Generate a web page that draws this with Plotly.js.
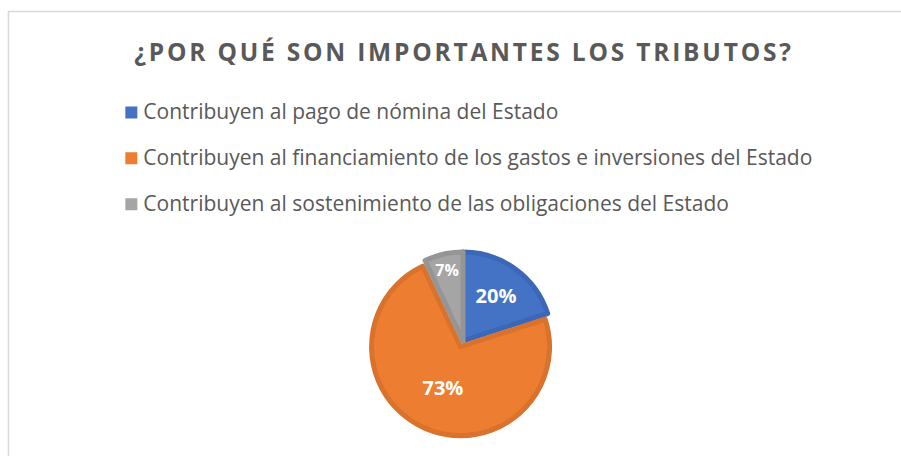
<!DOCTYPE html>
<html>
<head>
<meta charset="utf-8">
<script src="https://cdn.plot.ly/plotly-3.0.1.min.js"></script>
<style>html,body{margin:0;padding:0;background:#fff;}</style>
</head>
<body>
<div id="chart" style="width:901px;height:456px;"></div>
<script>
const chartTitle = "¿POR QUÉ SON IMPORTANTES LOS TRIBUTOS?";
const categories = [
  "Contribuyen al pago de nómina del Estado",
  "Contribuyen al financiamiento de los gastos e inversiones del Estado",
  "Contribuyen al sostenimiento de las obligaciones del Estado"
];
const values = [20, 73, 7];
const sliceColors = ["#4472C4", "#ED7D31", "#A5A5A5"];
const borderColors = ["#3B67B6", "#D8722C", "#959595"];
const pulls = [0, 0.07, 0];

const legendLabels = categories.map(c => '<span style="font-family:\'Open Sans\';font-size:21px">' + c + '</span><br> ');

const trace = {
  type: "pie",
  labels: legendLabels,
  values: values,
  sort: false,
  direction: "clockwise",
  rotation: 0,
  pull: pulls,
  marker: { colors: sliceColors, line: { color: borderColors, width: 5 } },
  textinfo: "percent",
  texttemplate: "%{percent:.0%}",
  textposition: "inside",
  insidetextorientation: "horizontal",
  textfont: { family: "Open Sans", size: 20, color: "#FFFFFF", weight: "bold" },
  hoverinfo: "skip",
  domain: { x: [0.4082, 0.6196], y: [0.0434, 0.4610] }
};

const layout = {
  width: 901,
  height: 456,
  margin: { l: 0, r: 0, t: 0, b: 0 },
  paper_bgcolor: "#FFFFFF",
  plot_bgcolor: "#FFFFFF",
  title: {
    text: "<b>" + chartTitle + "</b>",
    x: 0.5150, xanchor: "center",
    y: 0.886, yanchor: "middle",
    font: { family: "Open Sans", size: 24.5, color: "#595959" }
  },
  showlegend: true,
  legend: {
    x: 0.1147, xanchor: "left",
    y: 0.7912, yanchor: "top",
    orientation: "v",
    valign: "top",
    bgcolor: "rgba(0,0,0,0)",
    font: { family: "Open Sans", size: 16.5, color: "#595959" }
  },
  shapes: [{
    type: "rect", xref: "paper", yref: "paper",
    x0: 0.0094, x1: 1.02, y0: -0.05, y1: 0.9748,
    line: { color: "#D9D9D9", width: 1.5 },
    fillcolor: "rgba(0,0,0,0)"
  }]
};

Plotly.newPlot("chart", [trace], layout, { staticPlot: true, displayModeBar: false }).then(gd => {
  // Excel-style title letter spacing
  gd.querySelectorAll(".gtitle").forEach(t => { t.style.letterSpacing = "2.8px"; });
  // Legend keys: solid squares without slice border, closer to the text
  gd.querySelectorAll(".legend .legendpoints path").forEach(p => {
    p.style.strokeWidth = "0px";
    p.setAttribute("transform", "translate(28,0)");
  });
});
</script>
</body>
</html>
